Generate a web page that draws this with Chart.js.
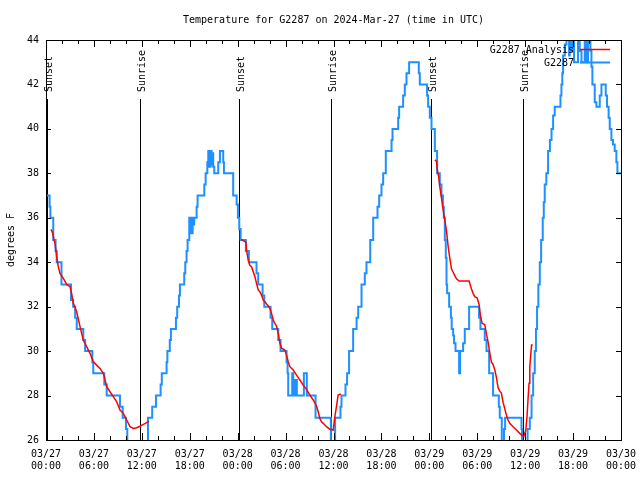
<!DOCTYPE html>
<html>
<head>
<meta charset="utf-8">
<title>Temperature for G2287</title>
<script src="https://cdn.jsdelivr.net/npm/chart.js@4.4.1/dist/chart.umd.min.js"></script>
<style>
  html, body { margin: 0; padding: 0; background: #fff; }
  canvas { display: block; }
</style>
</head>
<body>
<canvas id="tempChart" width="640" height="480"></canvas>
<script>
// all times are hours after 03/27 00:00 UTC

// station readings (value holds until the next entry)
const obsHours = [
  0, 0.45, 0.55, 0.91, 1.2, 1.34, 1.94, 3.13, 3.4, 3.65, 3.85, 4.67, 4.9, 5.8, 5.92,
  7.3, 7.6, 9.26, 9.6, 10.01, 10.18, 12.77, 13.3, 13.77, 14.35, 14.5, 15.1, 15.2, 15.5,
  15.64, 16.27, 16.43, 16.65, 16.77, 17.31, 17.44, 17.6, 17.73, 17.94, 18.02, 18.1,
  18.23, 18.36, 18.44, 18.56, 18.86, 18.98, 19.82, 19.99, 20.2, 20.32, 20.44, 20.61,
  20.74, 20.82, 20.94, 21.07, 21.57, 21.78, 22.19, 22.28, 23.44, 23.87, 24.03, 24.2,
  24.37, 25.03, 25.4, 26.36, 26.57, 27.12, 27.33, 28.12, 28.33, 29.08, 29.37, 30.12,
  30.25, 30.33, 30.83, 30.96, 31.04, 31.16, 31.29, 31.41, 32.29, 32.66, 33.75, 35.67,
  36.2, 36.87, 37.0, 37.5, 37.7, 37.95, 38.46, 38.89, 39.09, 39.51, 39.92, 40.13,
  40.6, 40.97, 41.51, 41.72, 42.01, 42.22, 42.55, 43.27, 43.39, 44.1, 44.22, 44.72,
  44.93, 45.14, 45.47, 46.68, 46.81, 47.72, 47.85, 48.06, 48.27, 48.69, 48.97, 49.31,
  49.52, 49.7, 49.81, 49.94, 50.06, 50.15, 50.23, 50.48, 50.7, 50.8, 50.98, 51.1,
  51.28, 51.73, 51.85, 52.23, 52.44, 52.98, 54.23, 54.4, 54.94, 55.16, 55.49, 55.98,
  56.7, 56.82, 57.07, 57.35, 57.49, 59.54, 59.61, 60.3, 60.58, 60.8, 61.0, 61.2,
  61.35, 61.49, 61.65, 61.83, 62.0, 62.2, 62.33, 62.45, 62.65, 62.87, 63.1, 63.3,
  63.5, 63.7, 64.42, 64.54, 64.65, 64.75, 64.96, 65.17, 65.5, 65.58, 65.8, 66.0,
  66.12, 66.62, 66.83, 67.05, 67.46, 67.67, 67.87, 68.17, 68.3, 68.42, 68.71, 68.92,
  69.34, 69.55, 70.09, 70.25, 70.45, 70.59, 70.8, 71.0, 71.21, 71.42, 71.55, 72
];
const obsTemps = [
  37, 36.5, 36, 35, 34.5, 34, 33, 32.3, 32, 31.5, 31, 30.5, 30, 29.5, 29,
  28.5, 28, 27.5, 27, 26.5, 25, 27, 27.5, 28, 28.5, 29, 29.5, 30, 30.5,
  31, 31.5, 32, 32.5, 33, 33.5, 34, 34.5, 35, 36, 35.3, 36,
  35.3, 36, 35.7, 36, 36.5, 37, 37.5, 38, 38.5, 39, 38.3, 39,
  38.4, 38.9, 38.3, 38, 38.5, 39, 38.5, 38, 37, 36.6, 36, 35.5,
  35, 34.5, 34, 33.5, 33, 32.5, 32, 31.5, 31, 30.5, 30, 29.5,
  29, 28, 29, 28, 28.7, 28, 28.7, 28, 29, 28, 27, 25,
  27, 27.5, 28, 28.5, 29, 30, 31, 31.5, 32, 33, 33.5, 34,
  35, 36, 36.5, 37, 37.5, 38, 39, 39.5, 40, 40.5, 41, 41.5,
  42, 42.5, 43, 42.5, 42, 41.5, 41, 40.5, 40, 39, 38, 37.5,
  37, 36.5, 36, 35, 34.2, 33, 32.6, 32, 31.5, 31, 30.7, 30.35,
  30, 29, 30, 30.35, 31, 32, 31.5, 31, 30.5, 30, 29, 28,
  27.5, 27, 25, 26.5, 27, 26.5, 25, 26.5, 27, 28, 29, 30,
  31, 32, 33, 34, 35, 36, 36.7, 37.5, 38, 39, 39.5, 40,
  40.6, 41, 41.5, 42, 42.5, 43.3, 43.8, 44.5, 43.3, 44.5, 43.5, 44.5,
  43, 44.5, 43.5, 43, 44.5, 43, 44.5, 43.5, 42.8, 42, 41.2, 41,
  41.5, 42, 41.5, 41, 40.5, 40, 39.5, 39.3, 39, 38.5, 38, 38
];

// analysis curve, one stretch per night (null = gap)
const analysisHours = [
  0.63, 0.85, 1.0, 1.13, 1.34, 1.54, 1.75, 2.17, 2.59, 3.0, 3.21, 3.42, 3.84, 4.26,
  4.67, 5.09, 5.51, 5.93, 6.34, 6.76, 7.18, 7.39, 7.6, 8.01, 8.43, 8.85, 9.27, 9.68,
  10.1, 10.52, 10.93, 11.35, 11.77, 12.2, 12.6, 12.9,
  18,
  24.45, 25.03, 25.11, 25.32, 25.53, 25.74, 25.95, 26.16, 26.36, 26.57, 26.78, 26.99,
  27.2, 27.41, 27.62, 27.83, 28.04, 28.24, 28.45, 28.66, 28.87, 29.08, 29.29, 29.49,
  29.91, 30.12, 30.33, 30.54, 30.96, 31.37, 31.79, 32.21, 32.62, 33.04, 33.46, 33.87,
  34.08, 34.29, 34.5, 34.71, 35.13, 35.54, 35.96, 36.17, 36.37, 36.58, 36.92,
  42,
  48.69, 48.9, 48.98, 49.19, 49.31, 49.52, 49.73, 49.94, 50.15, 50.36, 50.56, 50.77,
  50.98, 51.19, 51.4, 51.73, 52.98, 53.28, 53.48, 53.69, 53.98, 54.23, 54.4, 54.61,
  54.94, 55.16, 55.36, 55.57, 55.78, 55.98, 56.2, 56.41, 56.61, 56.82, 57.03, 57.23,
  57.45, 57.66, 57.86, 58.07, 58.49, 58.91, 59.32, 59.66, 59.82, 60.08, 60.24, 60.37,
  60.49, 60.58, 60.8, 60.95
];
const analysisTemps = [
  35.48, 35.3, 35.0, 34.85, 34.25, 33.8, 33.5, 33.27, 33.0, 32.9, 32.6, 32.15, 31.77, 31.1,
  30.5, 30.2, 29.9, 29.52, 29.37, 29.22, 29.0, 28.7, 28.4, 28.17, 27.95, 27.72, 27.35, 27.2,
  26.9, 26.6, 26.52, 26.55, 26.62, 26.7, 26.78, 26.85,
  null,
  35.03, 34.9, 34.55, 34.1, 33.85, 33.8, 33.57, 33.35, 33.05, 32.75, 32.67, 32.52,
  32.3, 32.22, 32.12, 32.03, 31.92, 31.7, 31.4, 31.25, 31.13, 30.8, 30.35, 30.13,
  30.05, 29.82, 29.52, 29.3, 29.15, 28.92, 28.7, 28.47, 28.28, 28.02, 27.8, 27.53,
  27.27, 26.97, 26.82, 26.75, 26.6, 26.48, 26.45, 27.05, 27.5, 28.02, 28.07,
  null,
  38.6, 38.55, 38.2, 37.8, 37.4, 36.9, 36.35, 35.9, 35.4, 34.7, 34.2, 33.7,
  33.55, 33.4, 33.25, 33.15, 33.15, 32.8, 32.6, 32.45, 32.4, 32.1, 31.6, 31.25,
  31.2, 30.75, 30.4, 29.9, 29.5, 29.4, 29.15, 28.8, 28.35, 28.2, 28.1, 27.7,
  27.4, 27.1, 26.9, 26.75, 26.6, 26.45, 26.3, 26.2, 26.15, 26.45, 27.1, 27.9,
  28.55, 29.3, 30.27, 30.27
];

const sunHours = [0.08, 11.81, 24.2, 35.73, 48.21, 59.77];
const sunLabels = ['Sunset', 'Sunrise', 'Sunset', 'Sunrise', 'Sunset', 'Sunrise'];

const xTickDates = ['03/27', '03/27', '03/27', '03/27', '03/28', '03/28', '03/28',
                    '03/28', '03/29', '03/29', '03/29', '03/29', '03/30'];
const xTickTimes = ['00:00', '06:00', '12:00', '18:00', '00:00', '06:00', '12:00',
                    '18:00', '00:00', '06:00', '12:00', '18:00', '00:00'];
const xMajorStep = 6;
const xMinorStep = 2;

const FONT = '"DejaVu Sans Mono", "Liberation Mono", monospace';
Chart.defaults.font.family = FONT;
Chart.defaults.font.size = 10;
Chart.defaults.color = '#000';

function pairUp(xs, ys) {
  return xs.map((h, i) => ({ x: h, y: ys[i] }));
}

function line(ctx, x1, y1, x2, y2) {
  ctx.beginPath();
  ctx.moveTo(x1, y1);
  ctx.lineTo(x2, y2);
  ctx.stroke();
}

// sunrise / sunset markers go under the data
const sunMarks = {
  id: 'sunMarks',
  beforeDatasetsDraw(chart) {
    const { ctx, chartArea: a, scales: { x } } = chart;
    ctx.save();
    ctx.strokeStyle = '#000';
    ctx.lineWidth = 1;
    ctx.fillStyle = '#000';
    ctx.font = '10px ' + FONT;
    sunHours.forEach((h, i) => {
      const px = Math.round(x.getPixelForValue(h)) + 0.5;
      line(ctx, px, a.top + 59, px, a.bottom);
      ctx.save();
      ctx.translate(px + 4.5, a.top + 52);
      ctx.rotate(-Math.PI / 2);
      ctx.textAlign = 'left';
      ctx.textBaseline = 'alphabetic';
      ctx.fillText(sunLabels[i], 0, 0);
      ctx.restore();
    });
    ctx.restore();
  }
};

// gnuplot style frame: box, inward ticks, title and key
const frame = {
  id: 'frame',
  afterDatasetsDraw(chart) {
    const { ctx, chartArea: a, scales: { x, y } } = chart;
    ctx.save();
    ctx.strokeStyle = '#000';
    ctx.lineWidth = 1;
    ctx.strokeRect(a.left + 0.5, a.top + 0.5, a.right - a.left, a.bottom - a.top);

    for (let h = x.min; h <= x.max; h += xMinorStep) {
      const px = Math.round(x.getPixelForValue(h)) + 0.5;
      const len = h % xMajorStep === 0 ? 7 : 4;
      line(ctx, px, a.bottom, px, a.bottom - len);
      line(ctx, px, a.top, px, a.top + len);
    }
    y.ticks.forEach(t => {
      const py = Math.round(y.getPixelForValue(t.value)) + 0.5;
      line(ctx, a.left, py, a.left + 5, py);
      line(ctx, a.right, py, a.right - 5, py);
    });

    ctx.fillStyle = '#000';
    ctx.font = '10px ' + FONT;
    ctx.textAlign = 'center';
    ctx.textBaseline = 'middle';
    ctx.fillText('Temperature for G2287 on 2024-Mar-27 (time in UTC)', (a.left + a.right) / 2, 20);

    ctx.textAlign = 'right';
    chart.data.datasets.forEach((ds, i) => {
      const ly = a.top + 10 + i * 13;
      ctx.fillText(ds.label, a.right - 47, ly);
      ctx.strokeStyle = ds.borderColor;
      ctx.lineWidth = ds.borderWidth;
      line(ctx, a.right - 41, ly - 0.5, a.right - 11, ly - 0.5);
    });
    ctx.restore();
  }
};

new Chart(document.getElementById('tempChart'), {
  type: 'line',
  data: {
    datasets: [{
      label: 'G2287 Analysis',
      data: pairUp(analysisHours, analysisTemps),
      borderColor: '#ff0000',
      borderWidth: 1.5,
      spanGaps: false
    }, {
      label: 'G2287',
      data: pairUp(obsHours, obsTemps),
      borderColor: '#1e90ff',
      borderWidth: 2,
      stepped: 'before'
    }]
  },
  options: {
    responsive: false,
    animation: false,
    devicePixelRatio: 1,
    layout: { padding: { top: 40, right: 19, left: 0, bottom: 0 } },
    elements: { point: { radius: 0 }, line: { tension: 0 } },
    plugins: {
      legend: { display: false },
      title: { display: false },
      tooltip: { enabled: false }
    },
    scales: {
      x: {
        type: 'linear',
        min: 0,
        max: 72,
        grid: { display: false, drawTicks: false },
        border: { display: false },
        ticks: {
          stepSize: xMajorStep,
          autoSkip: false,
          maxRotation: 0,
          padding: 8,
          callback: v => {
            const i = Math.round(v / xMajorStep);
            return [xTickDates[i], xTickTimes[i]];
          }
        },
        afterFit: s => {
          s.height = 40;
          s.paddingLeft = 0;
          s.paddingRight = 0;
        }
      },
      y: {
        min: 26,
        max: 44,
        grid: { display: false, drawTicks: false },
        border: { display: false },
        ticks: { stepSize: 2, padding: 7 },
        title: { display: true, text: 'degrees F', padding: { top: 5, bottom: 0 } },
        afterFit: s => { s.width = 46; }
      }
    }
  },
  plugins: [sunMarks, frame]
});
</script>
</body>
</html>
